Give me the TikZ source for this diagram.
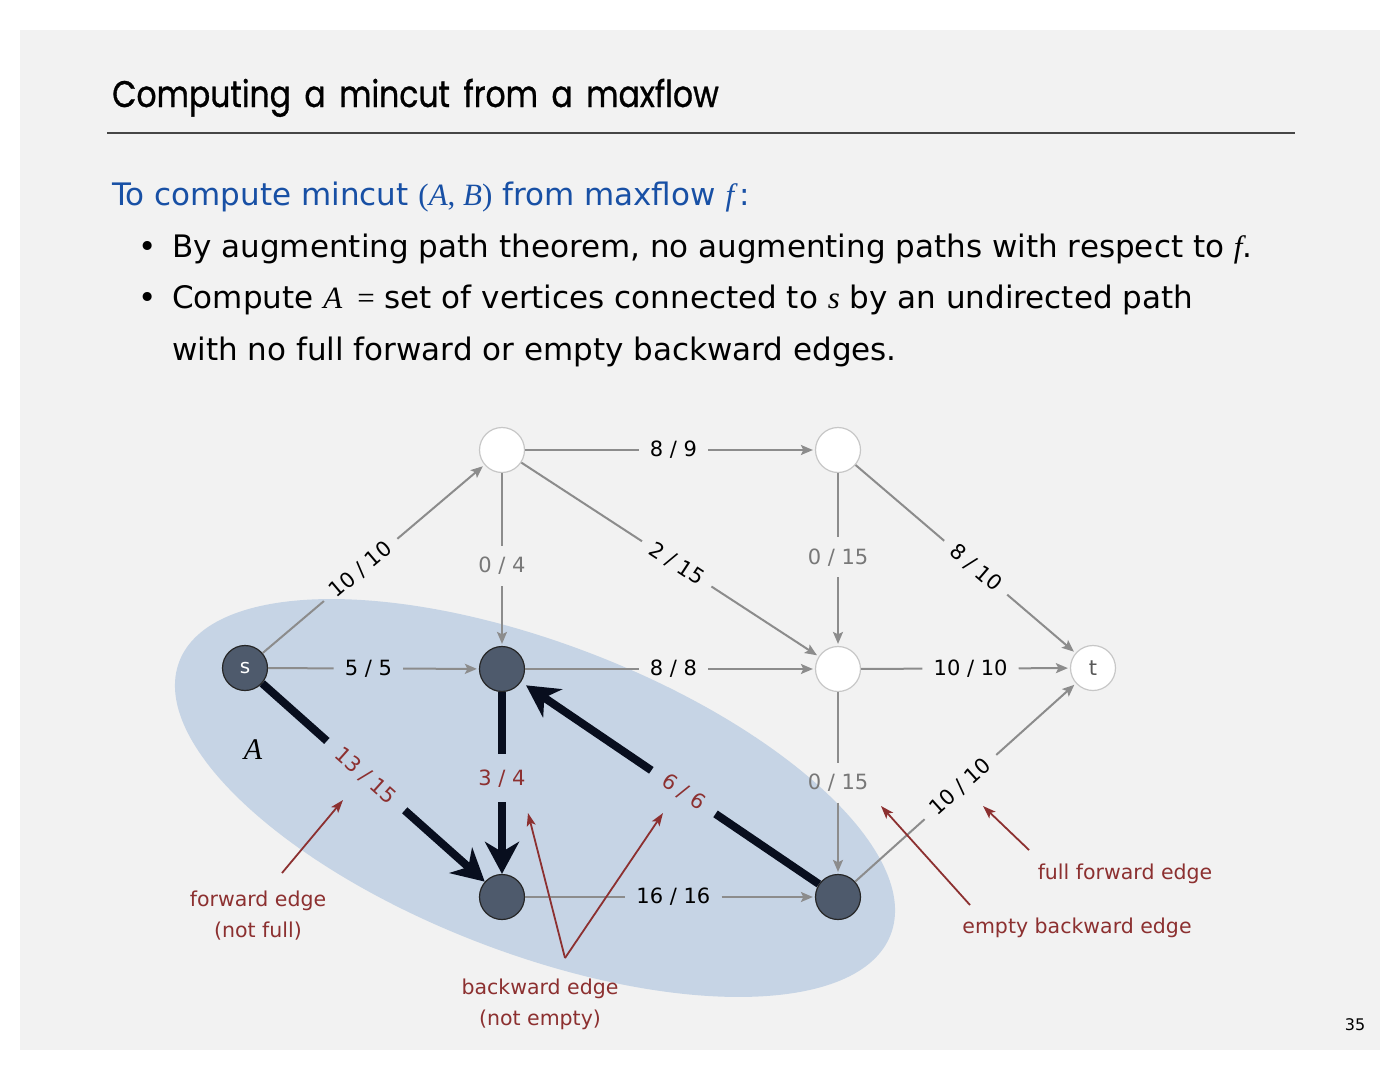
\documentclass[tikz,border=0pt]{standalone}
\usepackage{fontspec}
\setmainfont{DejaVu Sans}
\newfontfamily\titlefont{Poppins}[FakeStretch=0.85,FakeBold=0.8,WordSpace=1.6]
\newfontfamily\tms{Liberation Serif}
\usetikzlibrary{arrows.meta,calc}
\definecolor{bgc}{RGB}{242,242,242}
\definecolor{cutblue}{RGB}{198,212,229}
\definecolor{hdblue}{RGB}{24,80,165}
\definecolor{redb}{RGB}{140,48,48}
\definecolor{edgegray}{RGB}{140,140,140}
\definecolor{lblgray}{RGB}{120,120,120}
\definecolor{nodedark}{RGB}{78,90,108}
\definecolor{thickc}{RGB}{8,14,30}
\definecolor{rulec}{RGB}{70,70,70}
\begin{document}
\begin{tikzpicture}[x=1pt,y=-1pt,
  titlestyle/.style={anchor=base west,inner sep=0,font=\titlefont\fontsize{37}{40}\selectfont},
  body/.style={anchor=base west,inner sep=0,font=\fontsize{31}{36}\selectfont},
  vdark/.style={circle,minimum size=45pt,inner sep=0,fill=nodedark,draw=black!85,line width=1.2pt},
  vwhite/.style={circle,minimum size=45pt,inner sep=0,fill=white,draw=black!22,line width=1.2pt},
  lbl/.style={inner sep=1pt,font=\fontsize{21}{24}\selectfont},
  edge/.style={draw=edgegray,line width=2pt},
  ein/.style={edge,shorten >=10pt},
  arr/.style={edge,-{Stealth[length=12pt,width=10pt,inset=2.5pt]},shorten >=2pt,shorten <=10pt},
  thk/.style={draw=thickc,line width=8pt},
  tin/.style={thk,shorten >=14pt},
  tarr/.style={thk,-{Stealth[length=32pt,width=34pt,inset=10pt]},shorten <=14pt},
  note/.style={align=center,text=redb,inner sep=0,font=\fontsize{20.5}{31}\selectfont},
  narr/.style={draw=redb,line width=1.8pt,-{Stealth[length=13pt,width=9pt,inset=3pt]}}
]
\useasboundingbox (0,0) rectangle (1400,1081);
\fill[bgc] (20,30) rectangle (1380,1050);
% header
\node[titlestyle] (title) at (112,107) {Computing a mincut from a maxflow};
\draw[rulec,line width=1.5pt] (107,133) -- (1295,133);
\node[body,text=hdblue] (head) at (112,205) {To compute mincut {\tms(\textit{A}, \textit{B})} from maxflow {\tms\itshape f\,}:};
\node[body] (dot1) at (138,257) {•};
\node[body] (l1) at (172,257) {By augmenting path theorem, no augmenting paths with respect to {\tms\itshape f}.};
\node[body] (dot2) at (138,308) {•};
\node[body] (l2) at (172,308) {Compute {\tms\itshape A} \,{\tms =} set of vertices connected to {\tms\itshape s} by an undirected path};
\node[body] (l3) at (172,360) {with no full forward or empty backward edges.};
% cut
\fill[cutblue,rotate around={-21:(535,798)}] (535,798) ellipse [x radius=381pt,y radius=155pt];
\node[font=\tms\itshape\fontsize{30}{30}\selectfont,inner sep=0] (Alab) at (253,750) {A};
% vertices
\node[vdark,text=white,font=\fontsize{20}{20}\selectfont] (s) at (245,668) {s};
\node[vwhite] (a) at (502,450) {};
\node[vwhite] (b) at (838,450) {};
\node[vdark] (c) at (502,669) {};
\node[vwhite] (d) at (838,669) {};
\node[vwhite,text=black!65,font=\fontsize{21}{21}\selectfont] (t) at (1093,668) {t};
\node[vdark] (e) at (502,897) {};
\node[vdark] (f) at (838,897) {};
% labels
\node[lbl,rotate=40.3] (Lsa) at ($(s)!0.45!(a)$) {10 / 10};
\node[lbl] (Lab) at ($(a)!0.51!(b)$) {8 / 9};
\node[lbl,text=lblgray] (Lac) at ($(a)!0.53!(c)$) {0 / 4};
\node[lbl,rotate=-33.2] (Lad) at ($(a)!0.52!(d)$) {2 / 15};
\node[lbl,text=lblgray] (Lbd) at ($(b)!0.49!(d)$) {0 / 15};
\node[lbl,rotate=-40.6] (Lbt) at ($(b)!0.54!(t)$) {8 / 10};
\node[lbl] (Lsc) at ($(s)!0.48!(c)$) {5 / 5};
\node[lbl] (Lcd) at ($(c)!0.51!(d)$) {8 / 8};
\node[lbl] (Ldt) at ($(d)!0.52!(t)$) {10 / 10};
\node[lbl,text=lblgray] (Ldf) at ($(d)!0.5!(f)$) {0 / 15};
\node[lbl,rotate=42] (Lft) at ($(f)!0.48!(t)$) {10 / 10};
\node[lbl] (Lef) at ($(e)!0.51!(f)$) {16 / 16};
\node[lbl,rotate=-41.7,text=redb] (Lse) at ($(s)!0.47!(e)$) {13 / 15};
\node[lbl,text=redb] (Lce) at ($(c)!0.48!(e)$) {3 / 4};
\node[lbl,rotate=-34,text=redb] (Lfc) at ($(f)!0.46!(c)$) {6 / 6};
% grey edges
\draw[ein] (s) -- (Lsa); \draw[arr] (Lsa) -- (a);
\draw[ein] (a) -- (Lab); \draw[arr] (Lab) -- (b);
\draw[ein] (a) -- (Lac); \draw[arr] (Lac) -- (c);
\draw[ein] (a) -- (Lad); \draw[arr] (Lad) -- (d);
\draw[ein] (b) -- (Lbd); \draw[arr] (Lbd) -- (d);
\draw[ein] (b) -- (Lbt); \draw[arr] (Lbt) -- (t);
\draw[ein] (s) -- (Lsc); \draw[arr] (Lsc) -- (c);
\draw[ein] (c) -- (Lcd); \draw[arr] (Lcd) -- (d);
\draw[ein] (d) -- (Ldt); \draw[arr] (Ldt) -- (t);
\draw[ein] (d) -- (Ldf); \draw[arr] (Ldf) -- (f);
\draw[ein] (f) -- (Lft); \draw[arr] (Lft) -- (t);
\draw[ein] (e) -- (Lef); \draw[arr] (Lef) -- (f);
% thick edges
\draw[tin] (s) -- (Lse); \draw[tarr] (Lse) -- (e);
\draw[tin] (c) -- (Lce); \draw[tarr] (Lce) -- (e);
\draw[tin] (f) -- (Lfc); \draw[tarr,shorten >=6pt] (Lfc) -- (c);
% notes
\node[note] (nfwd) at (258,916) {forward edge\\(not full)};
\node[note] (nbwd) at (540,1004) {backward edge\\(not empty)};
\node[note] (nebw) at (1077,928) {empty backward edge};
\node[note] (nffw) at (1125,874) {full forward edge};
\coordinate (pf0) at (282,873); \coordinate (pf1) at (343,800);
\coordinate (pb0) at (565,958); \coordinate (pb1) at (528,813); \coordinate (pb2) at (663,813);
\coordinate (pe0) at (970,905); \coordinate (pe1) at (881,806);
\coordinate (pu0) at (1029,850); \coordinate (pu1) at (983,806);
\draw[narr] (pf0) -- (pf1);
\draw[narr] (pb0) -- (pb1);
\draw[narr] (pb0) -- (pb2);
\draw[narr] (pe0) -- (pe1);
\draw[narr] (pu0) -- (pu1);
\node[font=\fontsize{16}{16}\selectfont,inner sep=0] (pg) at (1355,1025) {35};
\end{tikzpicture}
\end{document}
